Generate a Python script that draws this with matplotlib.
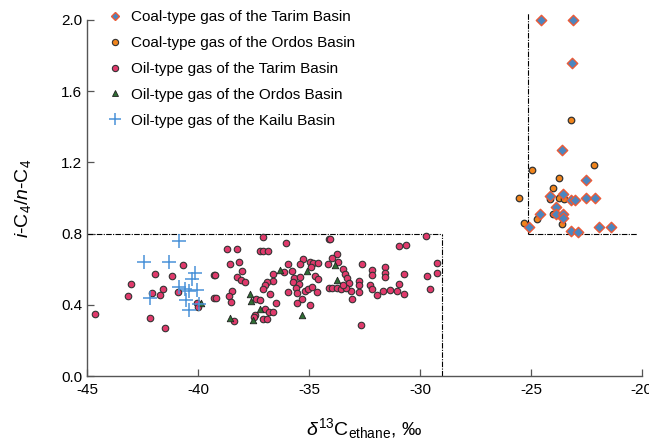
import matplotlib
matplotlib.use("Agg")
import matplotlib.pyplot as plt
from matplotlib.lines import Line2D

plt.rcParams['font.family'] = ['Liberation Sans', 'DejaVu Sans']
plt.rcParams['mathtext.fontset'] = 'custom'
plt.rcParams['mathtext.rm'] = 'Liberation Sans'
plt.rcParams['mathtext.it'] = 'Liberation Sans:italic'
plt.rcParams['axes.unicode_minus'] = False

# coal-type gas, Tarim Basin
coal_tarim_x = [-24.55, -23.09, -23.14, -23.62, -22.52, -24.13, -23.54, -23.20, -22.99, -22.52, -22.12,
                -23.87, -24.61, -23.87, -23.54, -23.54, -25.07, -23.20, -22.87, -21.94, -21.38]
coal_tarim_y = [2.00, 2.00, 1.76, 1.27, 1.10, 1.01, 1.02, 0.99, 0.99, 1.00, 1.00,
                0.95, 0.91, 0.91, 0.91, 0.886, 0.835, 0.816, 0.81, 0.835, 0.835]

# coal-type gas, Ordos Basin
coal_ordos_x = [-23.20, -22.15, -24.93, -23.72, -24.02, -25.54, -24.14, -23.72, -23.50, -24.02, -24.74, -25.32, -23.62]
coal_ordos_y = [1.44, 1.185, 1.16, 1.11, 1.056, 1.00, 0.994, 0.998, 0.994, 0.908, 0.88, 0.86, 0.856]

# oil-type gas, Tarim Basin
oil_tarim_x = [-40.69, -41.95, -41.16, -39.27, -43.03, -41.58, -43.15, -42.06, -41.73, -40.90, -44.65, -42.16,
               -41.49, -40.05, -40.01, -39.27,
               -37.06, -36.05, -34.11, -38.71, -38.26, -37.21, -37.09, -36.86, -38.56, -38.14, -39.23, -38.03,
               -38.23, -38.06, -37.88, -36.64, -36.62, -36.88, -37.00, -37.07, -36.74, -38.48, -38.59, -38.51,
               -39.17, -37.40, -37.21, -36.48, -36.98, -36.79, -36.64, -37.45, -37.46, -37.06, -36.88, -38.39,
               -35.96, -36.11, -35.74, -35.27, -35.41, -34.95, -34.81, -34.61, -34.91, -34.14, -35.67, -35.38,
               -35.72, -35.45, -34.72, -34.61, -35.59, -35.55, -35.96, -35.16, -35.06, -34.88, -34.62, -35.33,
               -35.53, -34.97, -34.11,
               -34.05, -29.73, -30.95, -30.63, -33.72, -33.95, -33.68, -32.63, -29.25, -29.25, -29.67, -30.72,
               -33.45, -33.36, -33.30, -33.18, -33.11, -33.08, -33.96, -33.72, -33.57, -33.35, -33.45, -32.73,
               -32.73, -32.73, -32.15, -32.15, -31.55, -31.55, -31.55, -32.25, -32.15, -31.94, -31.65, -31.36,
               -31.04, -30.71, -30.95, -29.55, -32.64]
oil_tarim_y = [0.622, 0.575, 0.562, 0.569, 0.517, 0.49, 0.451, 0.464, 0.453, 0.472, 0.348, 0.326,
               0.27, 0.41, 0.386, 0.44,
               0.78, 0.745, 0.77, 0.712, 0.712, 0.70, 0.70, 0.704, 0.63, 0.64, 0.569, 0.588,
               0.555, 0.541, 0.526, 0.573, 0.535, 0.526, 0.513, 0.49, 0.459, 0.478, 0.448, 0.414,
               0.44, 0.431, 0.425, 0.41, 0.378, 0.361, 0.361, 0.343, 0.33, 0.318, 0.318, 0.309,
               0.629, 0.584, 0.592, 0.655, 0.63, 0.642, 0.633, 0.633, 0.614, 0.63, 0.552, 0.554,
               0.526, 0.517, 0.562, 0.547, 0.496, 0.468, 0.472, 0.479, 0.49, 0.498, 0.472, 0.433,
               0.408, 0.401, 0.494,
               0.77, 0.788, 0.732, 0.734, 0.685, 0.665, 0.638, 0.63, 0.633, 0.577, 0.562, 0.575,
               0.60, 0.575, 0.549, 0.524, 0.478, 0.434, 0.496, 0.496, 0.49, 0.492, 0.511, 0.534,
               0.51, 0.472, 0.593, 0.565, 0.61, 0.58, 0.554, 0.511, 0.489, 0.453, 0.478, 0.483,
               0.478, 0.459, 0.517, 0.49, 0.288]

# oil-type gas, Ordos Basin
oil_ordos_x = [-39.85, -36.32, -35.08, -37.67, -37.63, -37.19, -38.56, -37.52, -35.29, -33.83, -33.72]
oil_ordos_y = [0.41, 0.594, 0.588, 0.459, 0.42, 0.376, 0.326, 0.315, 0.343, 0.625, 0.537]

# oil-type gas, Kailu Basin
kailu_x = [-40.87, -42.42, -41.32, -40.14, -40.28, -40.84, -40.59, -40.39, -40.03, -42.15, -40.53, -40.39, -39.94]
kailu_y = [0.76, 0.64, 0.64, 0.577, 0.543, 0.50, 0.49, 0.478, 0.483, 0.438, 0.427, 0.369, 0.404]

labels = ["Coal-type gas of the Tarim Basin", "Coal-type gas of the Ordos Basin",
          "Oil-type gas of the Tarim Basin", "Oil-type gas of the Ordos Basin",
          "Oil-type gas of the Kailu Basin"]

pink = '#e03a6c'
orange = '#f0841c'
green = '#2f6e34'
blue = '#4a92d8'
diam_face = '#4a86c0'
diam_edge = '#ec5a36'

fig = plt.figure(figsize=(6.49, 4.44), dpi=100)
ax = fig.add_axes([0.134, 0.153, 0.855, 0.802])

ax.scatter(oil_tarim_x, oil_tarim_y, s=22, c=pink, edgecolors='#333333', linewidths=0.8, zorder=3)
ax.scatter(oil_ordos_x, oil_ordos_y, s=22, marker='^', c=green, edgecolors='#222222', linewidths=0.6, zorder=4)
ax.scatter(kailu_x, kailu_y, s=90, marker='+', c=blue, linewidths=1.1, zorder=4)
ax.scatter(coal_ordos_x, coal_ordos_y, s=22, c=orange, edgecolors='#333333', linewidths=0.9, zorder=3)
ax.scatter(coal_tarim_x, coal_tarim_y, s=28, marker='D', c=diam_face, edgecolors=diam_edge,
           linewidths=1.0, zorder=5, clip_on=False)

# dash-dot boundary lines
dd = dict(color='black', lw=0.8, dashes=(5, 1.2, 1, 1.2), zorder=2, clip_on=False)
ax.plot([-45, -29], [0.8, 0.8], **dd)
ax.plot([-29, -29], [0, 0.8], **dd)
ax.plot([-25.15, -20.2], [0.8, 0.8], **dd)
ax.plot([-25.15, -25.15], [0.8, 2.04], **dd)

ax.set_xlim(-45, -20)
ax.set_ylim(0, 2.0)
ax.set_xticks([-45, -40, -35, -30, -25, -20])
ax.set_yticks([0.0, 0.4, 0.8, 1.2, 1.6, 2.0])
ax.set_yticklabels(['0.0', '0.4', '0.8', '1.2', '1.6', '2.0'])
ax.tick_params(direction='in', length=5, width=0.9, labelsize=11, colors='#555555', labelcolor='black')
ax.tick_params(axis='x', pad=5)
for side in ['top', 'right']:
    ax.spines[side].set_visible(False)
for side in ['left', 'bottom']:
    ax.spines[side].set_color('#555555')
    ax.spines[side].set_linewidth(1.0)

ax.set_xlabel(r'$\delta^{13}$C$_{\mathrm{ethane}}$, ‰', fontsize=14, labelpad=14)
ax.set_ylabel(r'$i$-C$_4$/$n$-C$_4$', fontsize=14, labelpad=20)

handles = [
    Line2D([], [], ls='', marker='D', ms=4.5, mfc=diam_face, mec=diam_edge, mew=1.0),
    Line2D([], [], ls='', marker='o', ms=4.5, mfc=orange, mec='#333333', mew=0.8),
    Line2D([], [], ls='', marker='o', ms=4.5, mfc=pink, mec='#333333', mew=0.8),
    Line2D([], [], ls='', marker='^', ms=4.5, mfc=green, mec='#222222', mew=0.6),
    Line2D([], [], ls='', marker='+', ms=8, mec=blue, mew=1.1),
]
ax.legend(handles, labels, loc='upper left', bbox_to_anchor=(0.025, 1.045), frameon=False,
          fontsize=11, handlelength=1.0, handletextpad=0.6, labelspacing=0.78, borderaxespad=0)

fig.savefig('out.png', dpi=100)
